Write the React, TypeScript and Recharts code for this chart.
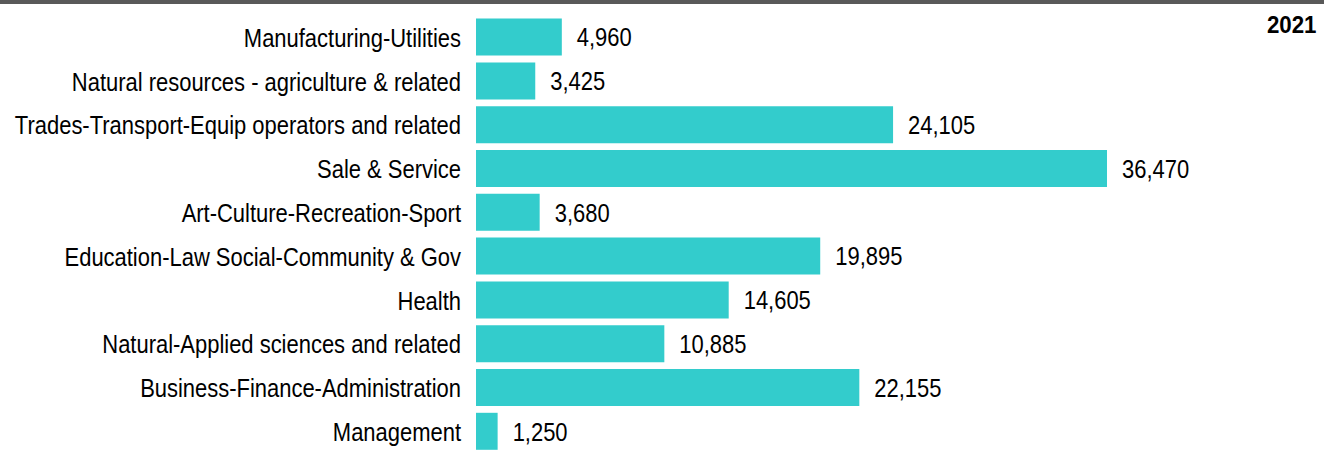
import { Bar, BarChart, LabelList, XAxis, YAxis } from 'recharts';

const categories = [
  'Manufacturing-Utilities',
  'Natural resources - agriculture & related',
  'Trades-Transport-Equip operators and related',
  'Sale & Service',
  'Art-Culture-Recreation-Sport',
  'Education-Law Social-Community & Gov',
  'Health',
  'Natural-Applied sciences and related',
  'Business-Finance-Administration',
  'Management',
];
const values2021 = [4960, 3425, 24105, 36470, 3680, 19895, 14605, 10885, 22155, 1250];
const yearLabel = '2021';

const data = categories.map((name, i) => ({ name, value: values2021[i] }));

const FONT = '"Liberation Sans", Arial, sans-serif';
// no narrow font installed, so squeeze Liberation Sans horizontally
const NARROW = 0.845;

const NarrowTick = (props: any) => {
  const { x, y, payload } = props;
  return (
    <text
      transform={`translate(${x},${y}) scale(${NARROW},1)`}
      textAnchor="end"
      dy="0.355em"
      fill="#000"
      fontSize={26}
      fontFamily={FONT}
    >
      {payload.value}
    </text>
  );
};

const ValueLabel = (props: any) => {
  const { x, y, width, height, value } = props;
  const tx = Number(x) + Number(width) + 15;
  const ty = Number(y) + Number(height) / 2;
  return (
    <text
      transform={`translate(${tx},${ty}) scale(${NARROW},1)`}
      textAnchor="start"
      dy="0.355em"
      fill="#000"
      fontSize={26}
      fontFamily={FONT}
    >
      {Number(value).toLocaleString('en-US')}
    </text>
  );
};

const App = () => {
  return (
    <div style={{ position: 'absolute', left: 0, top: 0, width: 1324, height: 456, background: '#fff' }}>
      <BarChart
        width={1324}
        height={456}
        data={data}
        layout="vertical"
        margin={{ top: 15.6, right: 17.5, bottom: 2.4, left: 0 }}
      >
        <XAxis type="number" domain={[0, 48000]} hide />
        <YAxis
          type="category"
          dataKey="name"
          width={476}
          axisLine={false}
          tickLine={false}
          tickSize={0}
          tickMargin={15}
          interval={0}
          tick={<NarrowTick />}
        />
        <Bar dataKey="value" fill="#33CCCC" barSize={37} isAnimationActive={false}>
          <LabelList dataKey="value" content={<ValueLabel />} />
        </Bar>
      </BarChart>
      <svg width={1324} height={456} style={{ position: 'absolute', left: 0, top: 0, pointerEvents: 'none' }}>
        <rect x={0} y={0} width={1324} height={4} fill="#595959" />
        <text
          transform="translate(1316.5,33.3) scale(0.91,1)"
          textAnchor="end"
          fill="#000"
          fontSize={24.5}
          fontWeight="bold"
          fontFamily={FONT}
        >
          {yearLabel}
        </text>
      </svg>
    </div>
  );
};

export default App;
